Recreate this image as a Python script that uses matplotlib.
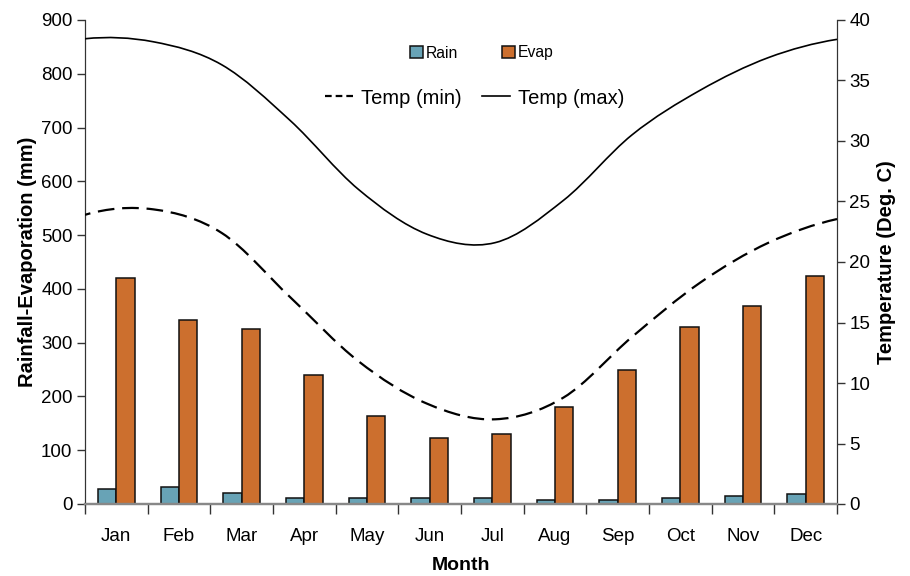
import numpy as np
import matplotlib.pyplot as plt
from matplotlib.path import Path
from matplotlib.patches import PathPatch, Patch
from matplotlib.lines import Line2D

plt.rcParams['font.family'] = ['Liberation Sans', 'DejaVu Sans']

months = ['Jan', 'Feb', 'Mar', 'Apr', 'May', 'Jun',
          'Jul', 'Aug', 'Sep', 'Oct', 'Nov', 'Dec']
rain = [27, 32, 20, 11, 12, 12, 12, 8, 7, 12, 14, 19]
evap = [420, 342, 326, 239, 164, 123, 131, 180, 249, 329, 369, 424]
temp_min = [23.9, 24.35, 22.4, 17.1, 11.8, 8.3, 7.0, 8.8, 13.8, 18.3, 21.6, 23.55]
temp_max = [38.45, 38.2, 36.3, 31.7, 26.0, 22.3, 21.6, 25.1, 30.5, 34.2, 36.9, 38.4]

rain_col = '#68a3b6'
evap_col = '#cc6f2e'


def smooth_path(xs, ys):
    # smoothed line drawn as cubic Bezier segments through the data points
    xs = np.asarray(xs, float)
    ys = np.asarray(ys, float)
    n = len(ys)
    m = np.zeros(n)
    m[1:-1] = (ys[2:] - ys[:-2]) / 2
    m[0] = (ys[1] - ys[0]) - (ys[2] - 2 * ys[1] + ys[0]) / 2
    m[-1] = (ys[-1] - ys[-2]) + (ys[-1] - 2 * ys[-2] + ys[-3]) / 2
    dx = xs[1] - xs[0]
    verts = [(xs[0], ys[0])]
    codes = [Path.MOVETO]
    for i in range(n - 1):
        verts += [(xs[i] + dx / 3, ys[i] + m[i] / 3),
                  (xs[i + 1] - dx / 3, ys[i + 1] - m[i + 1] / 3),
                  (xs[i + 1], ys[i + 1])]
        codes += [Path.CURVE4] * 3
    return Path(verts, codes)


fig = plt.figure(figsize=(9.1, 5.76), dpi=100)
ax = fig.add_axes([85 / 910, 1 - 504 / 576, 752 / 910, 484 / 576])
ax2 = ax.twinx()

x = np.arange(len(months))
w = 0.29
ax.bar(x - w / 2, rain, w, color=rain_col, edgecolor='#111111', linewidth=1.1, zorder=2)
ax.bar(x + w / 2, evap, w, color=evap_col, edgecolor='#111111', linewidth=1.1, zorder=2)

ax.set_xlim(-0.5, 11.5)
ax.set_ylim(0, 900)
ax.set_yticks(range(0, 901, 100))
ax.set_xticks(x)
ax.set_xticklabels(months)
ax.set_xticks(np.arange(-0.5, 12, 1), minor=True)
ax.tick_params(axis='x', which='major', length=0, pad=17, labelsize=13.5)
ax.tick_params(axis='x', which='minor', length=7, width=1, color='#333333', direction='out')
ax.tick_params(axis='y', length=6, width=1, color='#333333', labelsize=13.5, pad=3)

ax2.set_ylim(0, 40)
ax2.set_yticks(range(0, 41, 5))
ax2.tick_params(axis='y', length=6, width=1, color='#333333', labelsize=13.5, pad=3)

for a in (ax, ax2):
    a.spines['top'].set_visible(False)
    a.spines['left'].set_color('#333333')
    a.spines['right'].set_color('#333333')
    a.spines['bottom'].set_color('#888888')
    a.spines['bottom'].set_linewidth(1.6)

# temperature lines span the full plot width
lx = np.linspace(-0.5, 11.5, len(temp_max))
ax2.add_patch(PathPatch(smooth_path(lx, temp_max), facecolor='none',
                        edgecolor='black', linewidth=1.2, zorder=3))
ax2.add_patch(PathPatch(smooth_path(lx, temp_min), facecolor='none',
                        edgecolor='black', linewidth=1.6,
                        linestyle=(5, (7.5, 3.5)), zorder=3))

ax.set_ylabel('Rainfall-Evaporation (mm)', fontsize=14.5, fontweight='bold', labelpad=3)
ax2.set_ylabel('Temperature (Deg. C)', fontsize=14.5, fontweight='bold', labelpad=5)
ax.set_xlabel('Month', fontsize=14, fontweight='bold', labelpad=9)

h1 = [Patch(facecolor=rain_col, edgecolor='#111111', linewidth=1.1),
      Patch(facecolor=evap_col, edgecolor='#111111', linewidth=1.1)]
fig.legend(h1, ['Rain', 'Evap'], loc='center', bbox_to_anchor=(482 / 910, 1 - 53 / 576),
           ncol=2, frameon=False, fontsize=11.3, handlelength=0.8, handleheight=0.8,
           handletextpad=0.2, columnspacing=2.8)
h2 = [Line2D([], [], color='black', linewidth=1.6, linestyle=(0, (3, 1.8))),
      Line2D([], [], color='black', linewidth=1.2)]
fig.legend(h2, ['Temp (min)', 'Temp (max)'], loc='center',
           bbox_to_anchor=(475 / 910, 1 - 98 / 576), ncol=2, frameon=False,
           fontsize=14.5, handlelength=1.4, handletextpad=0.4, columnspacing=1.0)

fig.savefig('out.png', dpi=100)
